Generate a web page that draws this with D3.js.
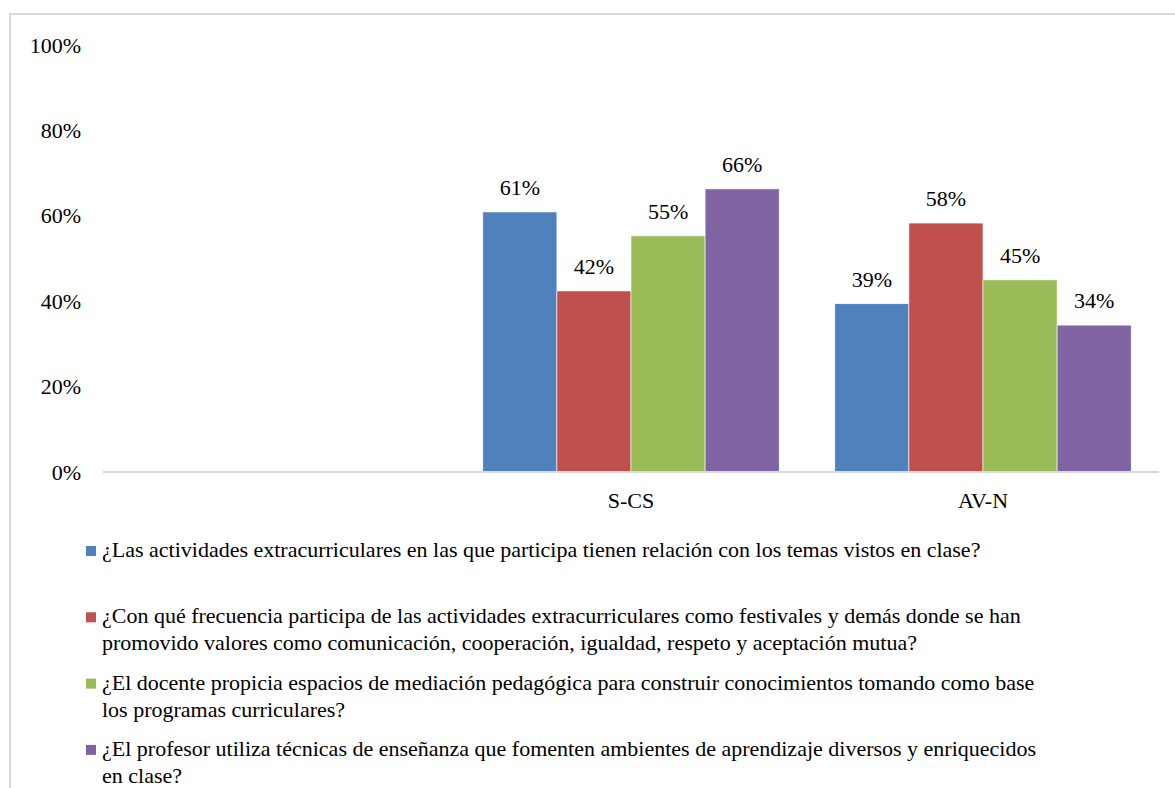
<!DOCTYPE html>
<html>
<head>
<meta charset="utf-8">
<script src="https://cdn.jsdelivr.net/npm/d3@7"></script>
</head>
<body style="margin:0">
<svg id="chart" width="1175" height="788" font-family="Liberation Serif"></svg>
<script>
// ---- data ----
const categories = ["", "S-CS", "AV-N"];
const seriesNames = [
  "¿Las actividades extracurriculares en las que participa tienen relación con los temas vistos en clase?",
  "¿Con qué frecuencia participa de las actividades extracurriculares como festivales y demás donde se han\npromovido valores como comunicación, cooperación, igualdad, respeto y aceptación mutua?",
  "¿El docente propicia espacios de mediación pedagógica para construir conocimientos tomando como base\nlos programas curriculares?",
  "¿El profesor utiliza técnicas de enseñanza que fomenten ambientes de aprendizaje diversos y enriquecidos\nen clase?"
];
const seriesColors = ["#4f81bd", "#c0504d", "#9bbb59", "#8064a2"];
// values per series, aligned with categories (null = no bar)
const s1 = [null, 0.609, 0.394];
const s2 = [null, 0.424, 0.583];
const s3 = [null, 0.553, 0.450];
const s4 = [null, 0.663, 0.344];
const seriesValues = [s1, s2, s3, s4];
const yTicks = [0, 0.2, 0.4, 0.6, 0.8, 1.0];

// ---- layout ----
const FONT = "Liberation Serif";
const fs = 22;
const svg = d3.select("#chart");
const plot = { left: 103, right: 1159, top: 45, bottom: 472 };

// outer frame (extends past the right/bottom edges, as in the reference)
svg.append("rect")
  .attr("x", 10).attr("y", 14).attr("width", 1200).attr("height", 800)
  .attr("fill", "none").attr("stroke", "#d9d9d9").attr("stroke-width", 2);

const x0 = d3.scaleBand().domain(d3.range(categories.length))
  .range([plot.left, plot.right]).paddingInner(0.158).paddingOuter(0.079);
const x1 = d3.scaleBand().domain(d3.range(seriesNames.length)).range([0, x0.bandwidth()]);
const y = d3.scaleLinear().domain([0, 1]).range([plot.bottom, plot.top]);
const pct = d3.format(".0%");

// y axis: labels only
const gy = svg.append("g").attr("transform", "translate(81,0)")
  .call(d3.axisLeft(y).tickValues(yTicks).tickFormat(pct).tickSize(0).tickPadding(0));
gy.attr("font-family", FONT).attr("font-size", fs);
gy.select(".domain").remove();
gy.selectAll("text").attr("font-family", FONT).attr("font-size", fs)
  .attr("fill", "#000").attr("dy", "0.32em");

// bars + value labels
seriesValues.forEach((vals, si) => {
  const data = vals.map((v, ci) => ({ v, ci })).filter(d => d.v != null);
  svg.append("g").selectAll("rect").data(data).join("rect")
    .attr("x", d => x0(d.ci) + x1(si))
    .attr("y", d => y(d.v))
    .attr("width", x1.bandwidth())
    .attr("height", d => y(0) - y(d.v))
    .attr("fill", seriesColors[si])
    .attr("stroke", "#fff").attr("stroke-width", 0.6);
  svg.append("g").selectAll("text").data(data).join("text")
    .attr("x", d => x0(d.ci) + x1(si) + x1.bandwidth() / 2)
    .attr("y", d => y(d.v) - 17)
    .attr("text-anchor", "middle")
    .attr("font-family", FONT).attr("font-size", fs).attr("fill", "#000")
    .text(d => pct(d.v));
});

// x axis
const gx = svg.append("g").attr("transform", `translate(0,${plot.bottom})`)
  .call(d3.axisBottom(x0).tickFormat(i => categories[i]).tickSize(0).tickPadding(0));
gx.attr("font-family", FONT).attr("font-size", fs);
gx.select(".domain").attr("stroke", "#d9d9d9").attr("stroke-width", 2)
  .attr("d", `M${plot.left},0H${plot.right}`);
gx.selectAll("text").attr("font-family", FONT).attr("font-size", fs)
  .attr("fill", "#000").attr("dy", null).attr("y", 36);

// legend
const legendTop = 557, legendStep = 66.3, lineH = 27;
seriesNames.forEach((name, i) => {
  const by = legendTop + i * legendStep;
  svg.append("rect").attr("x", 86).attr("y", by - 11).attr("width", 10).attr("height", 10)
    .attr("fill", seriesColors[i]);
  name.split("\n").forEach((ln, k) => {
    svg.append("text").attr("x", 102).attr("y", by + k * lineH)
      .attr("font-family", FONT).attr("font-size", fs).attr("fill", "#000").text(ln);
  });
});
</script>
</body>
</html>
